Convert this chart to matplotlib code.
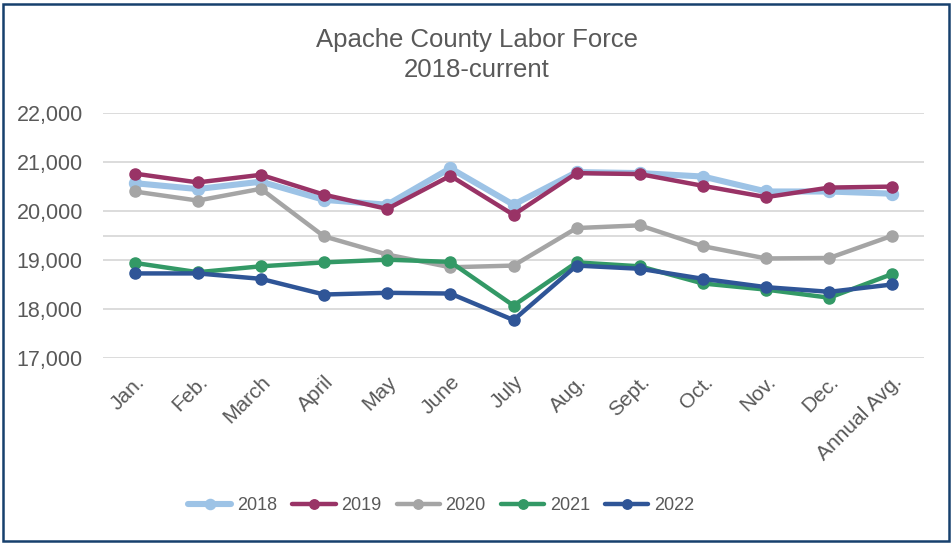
import matplotlib.pyplot as plt
from matplotlib.patches import Rectangle
from matplotlib.ticker import FuncFormatter

months = ['Jan.', 'Feb.', 'March', 'April', 'May', 'June', 'July', 'Aug.',
          'Sept.', 'Oct.', 'Nov.', 'Dec.', 'Annual Avg.']

y2018 = [20570, 20450, 20600, 20230, 20130, 20875, 20130, 20795, 20775, 20705, 20400, 20400, 20355]
y2019 = [20765, 20585, 20740, 20335, 20045, 20720, 19925, 20775, 20755, 20515, 20285, 20480, 20500]
y2020 = [20400, 20215, 20455, 19485, 19115, 18855, 18890, 19655, 19710, 19285, 19035, 19045, 19500]
y2021 = [18945, 18755, 18875, 18955, 19010, 18965, 18075, 18955, 18875, 18525, 18400, 18235, 18720]
y2022 = [18730, 18730, 18620, 18300, 18335, 18320, 17780, 18890, 18825, 18620, 18450, 18355, 18505]

series = [('2018', y2018, '#9DC3E6'),
          ('2019', y2019, '#993366'),
          ('2020', y2020, '#A5A5A5'),
          ('2021', y2021, '#339966'),
          ('2022', y2022, '#2F5597')]

plt.rcParams['font.family'] = ['Liberation Sans', 'DejaVu Sans']

W, H = 951, 543
fig = plt.figure(figsize=(W / 100, H / 100), dpi=100)
ax = fig.add_axes([103 / W, 1 - 358.3 / H, (924 - 103) / W, (358.3 - 113) / H])

# gridlines (incl. the unlabeled one at 19,500)
for g in [17000, 18000, 19000, 19500, 20000, 21000, 22000]:
    ax.axhline(g, color='#D9D9D9', lw=1.3, zorder=0)

x = list(range(len(months)))
for name, vals, col in series:
    lw = 4.4 if name == '2018' else 3.2
    ms = 8.6 if name == '2018' else 8
    ax.plot(x, vals, color=col, lw=lw, marker='o', ms=ms, label=name,
            solid_capstyle='round', zorder=3)

ax.set_xlim(-0.5, 12.5)
ax.set_ylim(17000, 22000)
ax.set_yticks([17000, 18000, 19000, 20000, 21000, 22000])
ax.yaxis.set_major_formatter(FuncFormatter(lambda v, p: f'{int(v):,}'))
ax.set_xticks(x)
ax.set_xticklabels(months, rotation=45, ha='right', rotation_mode='anchor')
ax.tick_params(axis='y', length=0, pad=14.5, labelsize=15.5, labelcolor='#595959')
ax.tick_params(axis='x', length=0, pad=10, labelsize=15, labelcolor='#595959')
for s in ax.spines.values():
    s.set_visible(False)

fig.text(477 / W, 1 - 40 / H, 'Apache County Labor Force', ha='center', va='center',
         fontsize=18.5, color='#595959')
fig.text(477 / W, 1 - 70 / H, '2018-current', ha='center', va='center',
         fontsize=18.5, color='#595959')

leg = fig.legend(loc='center', bbox_to_anchor=(441 / W, 1 - 506 / H), ncol=5,
                 frameon=False, fontsize=13, handlelength=2.4, columnspacing=0.85,
                 handletextpad=0.3, labelcolor='#595959', markerscale=0.85)

fig.add_artist(Rectangle((3 / W, 1 - 541 / H), (949 - 3) / W, (541 - 4) / H,
                         transform=fig.transFigure, fill=False,
                         edgecolor='#17406D', lw=1.8))

fig.savefig('out.png', dpi=100)
